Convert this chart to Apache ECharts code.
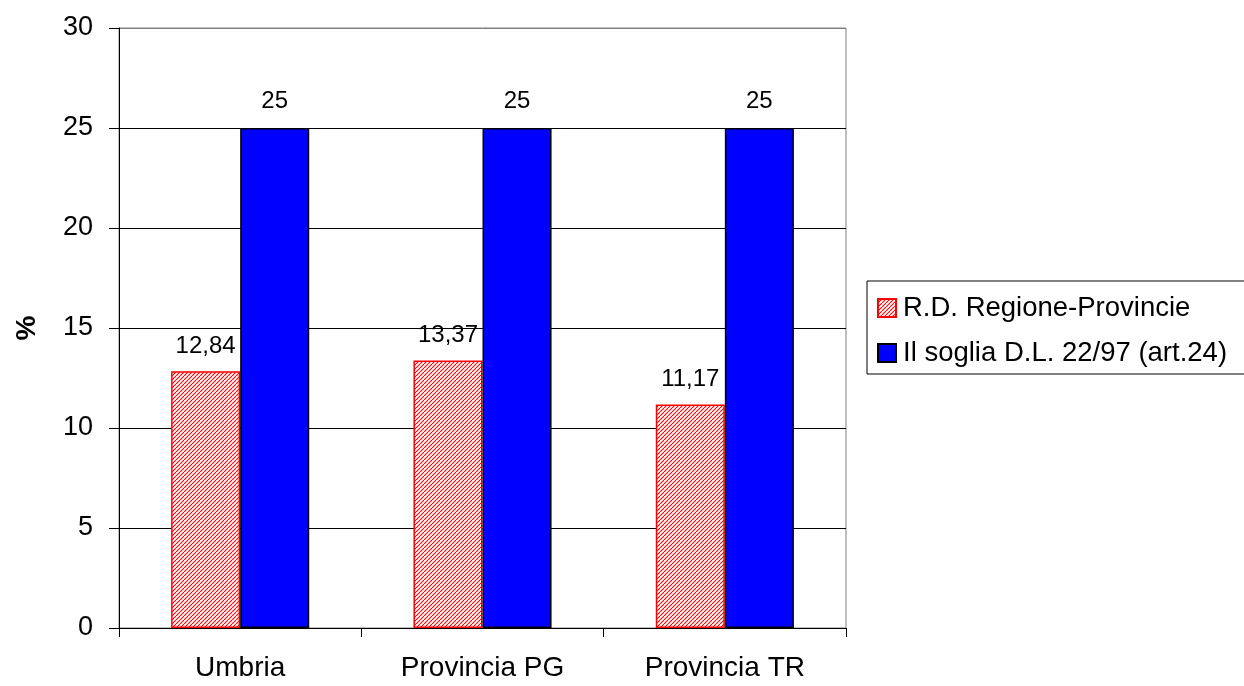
<!DOCTYPE html>
<html>
<head>
<meta charset="utf-8">
<script src="https://cdn.jsdelivr.net/npm/echarts@6/dist/echarts.min.js"></script>
<style>
  html, body { margin: 0; padding: 0; background: #fff; overflow: hidden; }
  #chart { width: 1244px; height: 686px; }
</style>
</head>
<body>
<div id="chart"></div>
<script>
const categories = ['Umbria', 'Provincia PG', 'Provincia TR'];
const seriesNames = ['R.D. Regione-Provincie', 'Il soglia D.L. 22/97 (art.24)'];
const rdValues = [12.84, 13.37, 11.17];
const sogliaValues = [25, 25, 25];
const yTicks = [0, 5, 10, 15, 20, 25, 30];

// Diagonal red hatch tile for the first series
function hatchTile() {
  const s = 4;
  const c = document.createElement('canvas');
  c.width = s; c.height = s;
  const ctx = c.getContext('2d');
  ctx.fillStyle = '#ffffff';
  ctx.fillRect(0, 0, s, s);
  ctx.strokeStyle = '#ff0000';
  ctx.lineWidth = 1.1;
  for (let k = -1; k <= 1; k++) {
    ctx.beginPath();
    ctx.moveTo(k * s, s);
    ctx.lineTo(k * s + s, 0);
    ctx.stroke();
  }
  return c;
}

const fontFamily = '"Liberation Sans", Arial, sans-serif';
const fmt = v => String(v).replace('.', ',');

const chart = echarts.init(document.getElementById('chart'), null, { renderer: 'canvas' });
chart.setOption({
  animation: false,
  textStyle: { fontFamily: fontFamily },
  grid: { left: 119, right: 398, top: 28, bottom: 58, show: true, borderColor: '#808080', borderWidth: 1 },
  legend: {
    orient: 'vertical',
    left: 867,
    top: 281,
    padding: [13, 30, 7, 10],
    itemGap: 17,
    itemWidth: 18,
    itemHeight: 18,
    icon: 'rect',
    borderColor: '#000',
    borderWidth: 1,
    textStyle: { fontSize: 27.5, color: '#000', fontFamily: fontFamily, padding: [0, 0, 0, 2] },
    data: seriesNames
  },
  xAxis: {
    type: 'category',
    data: categories,
    axisLine: { lineStyle: { color: '#000', width: 1 } },
    axisTick: { show: true, length: 9, lineStyle: { color: '#000' } },
    axisLabel: { fontSize: 28, color: '#000', margin: 26 }
  },
  yAxis: {
    type: 'value',
    min: yTicks[0],
    max: yTicks[yTicks.length - 1],
    interval: 5,
    name: '%',
    nameLocation: 'middle',
    nameGap: 78,
    nameTextStyle: { fontSize: 28, fontWeight: 'bold', color: '#000' },
    axisLine: { show: true, lineStyle: { color: '#000', width: 1 } },
    axisTick: { show: true, length: 10, lineStyle: { color: '#000' } },
    axisLabel: { fontSize: 27, color: '#000', margin: 26 },
    splitLine: { show: true, lineStyle: { color: ['#000', '#000', '#000', '#000', '#000', '#000', '#808080'], width: 1 } }
  },
  series: [
    {
      name: seriesNames[0],
      type: 'bar',
      data: rdValues,
      barGap: '0%',
      barCategoryGap: '43%',
      itemStyle: {
        color: { image: hatchTile(), repeat: 'repeat' },
        borderColor: '#ff0000',
        borderWidth: 1.5
      },
      label: {
        show: true, position: 'top', distance: 13,
        fontSize: 24, color: '#000', formatter: p => fmt(p.value)
      }
    },
    {
      name: seriesNames[1],
      type: 'bar',
      data: sogliaValues,
      itemStyle: { color: '#0000ff', borderColor: '#000', borderWidth: 1.5 },
      label: {
        show: true, position: 'top', distance: 15,
        fontSize: 24, color: '#000', formatter: p => fmt(p.value)
      }
    }
  ]
});
</script>
</body>
</html>
